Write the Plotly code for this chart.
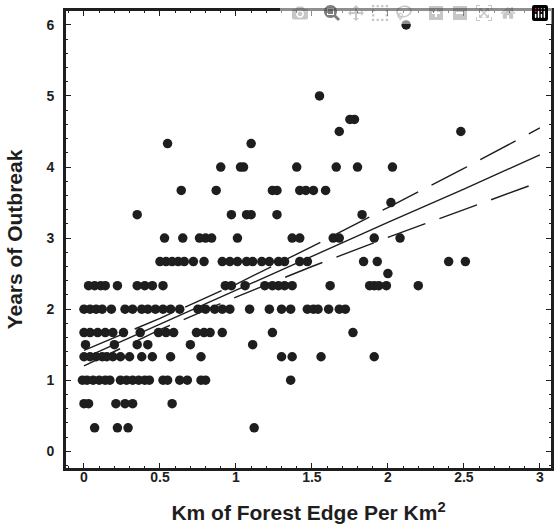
import plotly.graph_objects as go

# ---- data (x = km of forest edge per km^2, y = years of outbreak) ----
row_6_00 = [2.12]
row_5_00 = [1.55]
row_4_67 = [1.75, 1.78]
row_4_50 = [1.68, 2.48]
row_4_33 = [0.55, 1.10]
row_4_00 = [0.90, 1.03, 1.05, 1.40, 1.66, 1.80, 2.03]
row_3_67 = [0.64, 0.87, 1.24, 1.27, 1.42, 1.46, 1.51, 1.59]
row_3_50 = [2.02]
row_3_33 = [0.35, 0.97, 1.07, 1.10, 1.27, 1.83]
row_3_00 = [0.53, 0.65, 0.76, 0.80, 0.84, 1.01, 1.37, 1.42, 1.64, 1.68, 1.91, 2.08]
row_2_67 = [0.50, 0.54, 0.58, 0.62, 0.66, 0.72, 0.79, 0.91, 0.96, 1.01, 1.07, 1.11,
            1.17, 1.22, 1.28, 1.32, 1.42, 1.47, 1.84, 1.93, 2.40, 2.51]
row_2_50 = [2.00]
row_2_33 = [0.03, 0.07, 0.11, 0.14, 0.22, 0.35, 0.40, 0.45, 0.52, 0.93, 0.97, 1.06,
            1.19, 1.24, 1.28, 1.32, 1.37, 1.62, 1.88, 1.91, 1.94, 1.99, 2.20]
row_2_00 = [0.00, 0.04, 0.08, 0.12, 0.18, 0.27, 0.32, 0.38, 0.42, 0.47, 0.52, 0.57,
            0.63, 0.75, 0.80, 0.86, 0.91, 0.96, 1.09, 1.22, 1.30, 1.36, 1.47, 1.51,
            1.54, 1.61, 1.68, 1.72]
row_1_67 = [0.00, 0.04, 0.09, 0.14, 0.19, 0.26, 0.37, 0.49, 0.54, 0.59, 0.74, 0.79,
            0.83, 0.91, 1.24, 1.77]
row_1_50 = [0.01, 0.20, 0.35, 0.42, 0.70, 1.11]
row_1_33 = [0.00, 0.04, 0.08, 0.12, 0.15, 0.19, 0.24, 0.30, 0.38, 0.45, 0.57, 0.77,
            1.30, 1.37, 1.56, 1.91]
row_1_00 = [-0.01, 0.02, 0.06, 0.10, 0.14, 0.17, 0.24, 0.28, 0.32, 0.36, 0.40, 0.43,
            0.52, 0.55, 0.63, 0.68, 0.77, 0.80, 1.36]
row_0_67 = [0.00, 0.03, 0.21, 0.27, 0.32, 0.58]
row_0_33 = [0.07, 0.22, 0.29, 1.12]

row_levels = [6.0, 5.0, 4.67, 4.5, 4.33, 4.0, 3.67, 3.5, 3.33, 3.0, 2.67, 2.5,
              2.33, 2.0, 1.67, 1.5, 1.33, 1.0, 0.67, 0.33]
row_lists = [row_6_00, row_5_00, row_4_67, row_4_50, row_4_33, row_4_00, row_3_67,
             row_3_50, row_3_33, row_3_00, row_2_67, row_2_50, row_2_33, row_2_00,
             row_1_67, row_1_50, row_1_33, row_1_00, row_0_67, row_0_33]

# regression line and confidence band
fit_x = [0.0, 0.5, 1.0, 1.5, 2.0, 2.5, 3.0]
fit_y = [1.31, 1.79, 2.26, 2.74, 3.22, 3.69, 4.17]
upper_y = [1.42, 1.87, 2.35, 2.88, 3.43, 3.98, 4.55]
lower_y = [1.20, 1.71, 2.17, 2.60, 3.01, 3.40, 3.79]

x_ticks = [0, 0.5, 1, 1.5, 2, 2.5, 3]
x_tick_text = ["0", "0.5", "1", "1.5", "2", "2.5", "3"]
y_ticks = [0, 1, 2, 3, 4, 5, 6]
y_tick_text = ["0", "1", "2", "3", "4", "5", "6"]

x_range = [-0.125, 3.08]
y_range = [-0.25, 6.21]

xs, ys = [], []
for lvl, lst in zip(row_levels, row_lists):
    xs.extend(lst)
    ys.extend([lvl] * len(lst))

ink = "#1e1e1e"
fig = go.Figure()
fig.add_trace(go.Scatter(x=xs, y=ys, mode="markers",
                         marker=dict(size=9.5, color=ink, line=dict(width=0)),
                         showlegend=False, hoverinfo="skip"))
fig.add_trace(go.Scatter(x=fit_x, y=fit_y, mode="lines",
                         line=dict(color=ink, width=1.4), showlegend=False))
for band in (upper_y, lower_y):
    fig.add_trace(go.Scatter(x=fit_x, y=band, mode="lines",
                             line=dict(color=ink, width=1.4, dash="40px,15px"),
                             showlegend=False))

axis_common = dict(showgrid=False, zeroline=False, showline=True, linecolor=ink,
                   linewidth=2, mirror="ticks", ticks="inside", tickcolor=ink,
                   tickwidth=1.4, ticklen=6, automargin=False,
                   tickfont=dict(family="Liberation Sans", size=14, color=ink, weight="bold"))

fig.update_layout(
    width=554, height=527,
    margin=dict(l=65, r=2, t=10, b=58),
    paper_bgcolor="white", plot_bgcolor="white",
    xaxis=dict(range=x_range, tickvals=x_ticks, ticktext=x_tick_text,
               ticklabelstandoff=-6,
               minor=dict(dtick=0.1, ticks="inside", ticklen=3, tickcolor=ink, tickwidth=1.1),
               title=dict(text="Km of Forest Edge Per Km<sup>2</sup>",
                          font=dict(family="Liberation Sans", size=21, color=ink, weight="bold"),
                          standoff=22),
               **axis_common),
    yaxis=dict(range=y_range, tickvals=y_ticks, ticktext=y_tick_text,
               ticklabelstandoff=6,
               minor=dict(dtick=0.2, ticks="inside", ticklen=3, tickcolor=ink, tickwidth=1.1),
               title=dict(text="Years of Outbreak",
                          font=dict(family="Liberation Sans", size=21, color=ink, weight="bold"),
                          standoff=18),
               **axis_common),
    shapes=[dict(type="rect", xref="paper", yref="paper", x0=0, x1=1, y0=0, y1=1,
                 line=dict(color=ink, width=2), fillcolor="rgba(0,0,0,0)", layer="above")],
)

# remove the page's default body margin so the figure sits at the window origin
fig.write_html("out.html",
               post_script="document.body.style.margin='0';document.body.style.overflow='hidden';")
